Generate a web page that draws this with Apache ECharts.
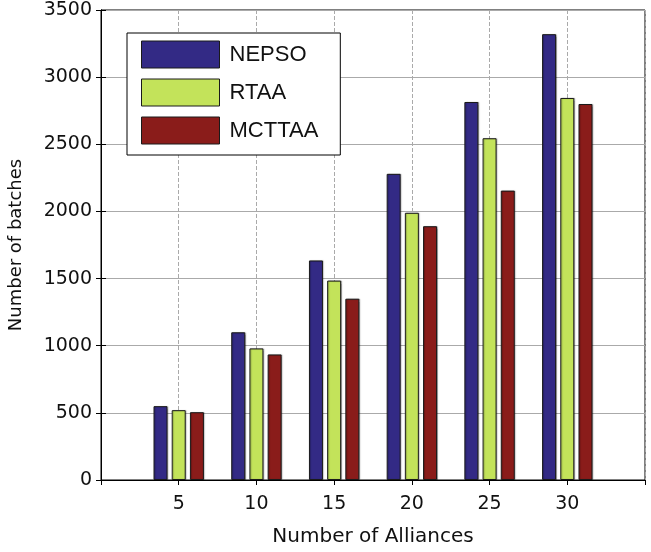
<!DOCTYPE html>
<html><head><meta charset="utf-8">
<script src="https://cdn.jsdelivr.net/npm/echarts@6/dist/echarts.min.js"></script>
<style>html,body{margin:0;padding:0;background:#fff}#c{width:651px;height:552px}</style>
</head><body><div id="c"></div>
<script>
const categories = [5, 10, 15, 20, 25, 30];
const nepso = [550, 1100, 1635, 2280, 2815, 3320];
const rtaa = [520, 980, 1485, 1990, 2545, 2845];
const mcttaa = [505, 935, 1350, 1890, 2155, 2800];
const yTicks = [0, 500, 1000, 1500, 2000, 2500, 3000, 3500];
const seriesNames = ['NEPSO', 'RTAA', 'MCTTAA'];
const colors = ['#332a85', '#c3e35a', '#8a1c1a'];

const font = 'DejaVu Sans, Liberation Sans, sans-serif';
const lfont = 'Liberation Sans, Arial, sans-serif';
const chart = echarts.init(document.getElementById('c'));
const mk = (name, vals, i) => ({
  name, type: 'bar', barWidth: 14, barGap: '30%',
  xAxisIndex: 0, yAxisIndex: 0,
  data: categories.map((c, k) => [c, vals[k]]),
  itemStyle: { color: colors[i], borderColor: '#1a1a1a', borderWidth: 1,
    shadowColor: 'rgba(0,0,0,0.25)', shadowOffsetX: 1, shadowOffsetY: 0, shadowBlur: 1 },
  z: 3
});
const xCommon = { type: 'value', min: 0, max: 35, interval: 5 };
const yCommon = { type: 'value', min: 0, max: 3500, interval: 500 };
chart.setOption({
  animation: false,
  grid: { left: 101, right: 6, top: 10, bottom: 72, show: true, borderColor: '#000', borderWidth: 1,
    outerBoundsMode: 'none', containLabel: false },
  legend: {
    orient: 'vertical', left: 127, top: 33,
    data: seriesNames,
    icon: 'rect',
    itemWidth: 78, itemHeight: 27, itemGap: 9,
    padding: [7, 22, 10, 14],
    backgroundColor: '#fff', borderColor: '#000', borderWidth: 1,
    textStyle: { fontFamily: lfont, fontSize: 22, lineHeight: 22, color: '#111', padding: [7, 0, 0, 5] },
    itemStyle: { borderColor: '#1a1a1a', borderWidth: 1 }
  },
  xAxis: [Object.assign({}, xCommon, {
    position: 'bottom',
    name: 'Number of Alliances', nameLocation: 'middle', nameGap: 47,
    nameTextStyle: { fontFamily: font, fontSize: 20, color: '#111' },
    axisLine: { show: true, lineStyle: { color: '#000' } },
    axisTick: { show: false },
    axisLabel: { fontFamily: font, fontSize: 19, color: '#111', margin: 15,
      formatter: v => (categories.indexOf(v) >= 0 ? String(v) : '') },
    splitLine: { show: true, lineStyle: { color: '#aaa', type: 'dashed', width: 1 } }
  }), Object.assign({}, xCommon, {
    position: 'top',
    axisLine: { show: true, lineStyle: { color: '#000' } },
    axisTick: { show: true, inside: true, length: 5, lineStyle: { color: '#000' } },
    axisLabel: { show: false },
    splitLine: { show: false }
  })],
  yAxis: [Object.assign({}, yCommon, {
    position: 'left',
    name: 'Number of batches', nameLocation: 'middle', nameGap: 76,
    nameTextStyle: { fontFamily: font, fontSize: 18, color: '#111' },
    axisLine: { show: true, lineStyle: { color: '#000' } },
    axisTick: { show: true, inside: true, length: 5, lineStyle: { color: '#000' } },
    axisLabel: { fontFamily: font, fontSize: 19, color: '#111', margin: 9,
      formatter: v => (yTicks.indexOf(v) >= 0 ? String(v) : '') },
    splitLine: { show: true, lineStyle: { color: '#aaa', width: 1 } }
  }), Object.assign({}, yCommon, {
    position: 'right',
    axisLine: { show: true, lineStyle: { color: '#000' } },
    axisTick: { show: true, inside: true, length: 5, lineStyle: { color: '#000' } },
    axisLabel: { show: false },
    splitLine: { show: false }
  })],
  series: [mk('NEPSO', nepso, 0), mk('RTAA', rtaa, 1), mk('MCTTAA', mcttaa, 2)]
});
</script></body></html>
